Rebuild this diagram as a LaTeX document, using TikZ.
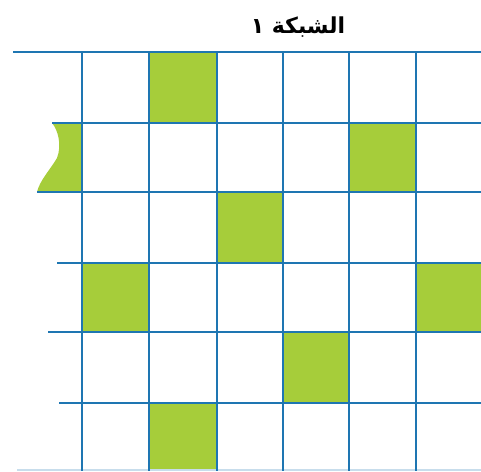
\documentclass[tikz,border=0pt]{standalone}
\usepackage{fontspec}
\newfontfamily\arabicfont[Script=Arabic]{DejaVu Sans}
\TeXXeTstate=1
\definecolor{gridblue}{RGB}{30,118,178}
\definecolor{cellgreen}{RGB}{166,205,58}
\begin{document}
\begin{tikzpicture}[x=1pt,y=-1pt,
  gl/.style={draw=gridblue,line width=2.8pt},
  cell/.style={fill=cellgreen}]
\useasboundingbox (0,0) rectangle (481,471);
% green cells
\fill[cell] (149,52) rectangle (217,123);
\fill[cell] (349,123) rectangle (416,192);
\fill[cell] (217,192) rectangle (283,263);
\fill[cell] (82,263) rectangle (149,332);
\fill[cell] (416,263) rectangle (481,332);
\fill[cell] (283,332) rectangle (349,403);
\fill[cell] (149,403) rectangle (217,471);
% torn partial cell
\fill[cell] (52,123) .. controls (58,130) and (62,145) .. (57,158)
  .. controls (50,170) and (40,180) .. (37,192) -- (82,192) -- (82,123) -- cycle;
% horizontal lines
\draw[gl] (13,52) -- (481,52);
\draw[gl] (52,123) -- (481,123);
\draw[gl] (37,192) -- (481,192);
\draw[gl] (57,263) -- (481,263);
\draw[gl] (48,332) -- (481,332);
\draw[gl] (59,403) -- (481,403);
\draw[draw=gridblue!25,line width=2pt] (17,470) -- (481,470);
% vertical lines
\foreach \x in {82,149,217,283,349,416}
  \draw[gl] (\x,52) -- (\x,471);
% title
\node[font=\arabicfont\bfseries\fontsize{22}{26}\selectfont] (title) at (298,27) {\beginR الشبكة ١\endR};
\end{tikzpicture}
\end{document}
